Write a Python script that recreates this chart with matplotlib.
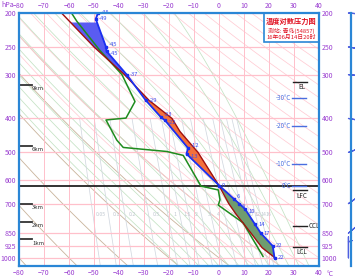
import numpy as np
import matplotlib.pyplot as plt
from matplotlib.patches import Rectangle
import matplotlib.transforms as mtransforms

plt.rcParams['font.family'] = ['Noto Sans CJK SC', 'DejaVu Sans']

# sounding (surface upward)
temp_p = [1000, 925, 850, 802, 725, 700, 679, 622, 505, 486, 405, 397, 355, 300, 257, 250, 208, 200]
temp_t = [22.2, 21.5, 16.7, 14.4, 10.4, 8.1, 6.0, 0.1, -13.0, -12.4, -21.6, -23.2, -29.3, -36.9, -45.0, -45.2, -49.3, -48.4]

dewp_p = [990, 795, 707, 683, 640, 624, 510, 497, 484, 461, 404, 399, 358, 300, 255, 211, 200]
dewp_t = [17.6, 9.7, -0.3, 0.4, -0.3, -7.2, -14.3, -20.9, -38.3, -40.9, -45.2, -37.2, -33.6, -38.8, -47.8, -56.9, -59.0]

parcel_p = [1000, 935, 850, 750, 700, 622, 500, 436, 400, 355, 300, 250, 200]
parcel_t = [22.4, 17.2, 12.8, 6.8, 3.9, 0.0, -8.4, -15.6, -18.8, -28.0, -37.8, -50.0, -63.0]

# special levels
lvl_names = ['EL', 'LFC', 'CCL', 'LCL']
lvl_p = [314, 640, 809, 929]
frz_names = ['-30°C', '-20°C', '-10°C', '0°C']
frz_p = [350, 420, 540, 622]
km_names = ['9km', '6km', '3km', '2km', '1km']
km_p = [320, 478, 702, 789, 886]

# winds
wind_p = [200, 250, 300, 400, 500, 700, 850, 1000]
wind_dir = [275, 280, 275, 280, 250, 235, 230, 180]
wind_spd = [22, 14, 20, 16, 6, 10, 8, 4]

std_p = [200, 250, 300, 400, 500, 600, 700, 850, 925, 1000]
mix_w = [0.05, 0.1, 0.2, 0.5, 1, 1.5, 2, 3, 4, 6, 8, 10, 12, 14, 16]

PURPLE = '#9b3fd1'
SPINE = '#2a86d6'
BLUE = '#1a2ff0'

fig = plt.figure(figsize=(3.55, 2.79), dpi=100)
ax = fig.add_axes([19 / 355, 13 / 279, 300 / 355, 253 / 279])
ax.set_yscale('log')
ax.set_xlim(-80, 40)
ax.set_ylim(1055, 200)

# --- background lines
pp = np.geomspace(200, 1055, 200)
for th in range(-100, 40, 20):
    ax.plot((th + 273.15) * (pp / 1000) ** 0.2857 - 273.15, pp, color='#c9b49c', lw=0.6, zorder=1)
for th in range(10, 230, 10):
    ax.plot((th + 273.15) * (pp / 1000) ** 0.2857 - 273.15, pp, color='#ffccd4', lw=0.55, zorder=1)


def moist(t0):
    ps = np.geomspace(1055, 200, 300)
    T = t0 + 273.15
    out = []
    for i, p in enumerate(ps):
        if i > 0:
            es = 6.112 * np.exp(17.67 * (T - 273.15) / (T - 29.65))
            rs = 0.622 * es / (ps[i - 1] - es)
            num = (287 * T + 2.5e6 * rs) / ps[i - 1]
            den = 1004 + 2.5e6 ** 2 * rs * 0.622 / (287 * T * T)
            T += num / den * (p - ps[i - 1])
        out.append(T - 273.15)
    return np.array(out), ps


for t0 in range(-16, 40, 4):
    mt, mp = moist(t0)
    ax.plot(mt, mp, color='#c4e2c4', lw=0.55, zorder=1)

pm = np.geomspace(400, 1055, 50)
for w in mix_w:
    e = w * pm / (622 + w)
    td = 243.5 * np.log(e / 6.112) / (17.67 - np.log(e / 6.112))
    ax.plot(td, pm, color='#d2d8e0', lw=0.55, zorder=1)
    e7 = w * 754 / (622 + w)
    l7 = np.log(e7 / 6.112)
    ax.text(243.5 * l7 / (17.67 - l7) + 3, 754, f'{w:g}', fontsize=3.8, color='#c0c8d0',
            ha='center', va='center', zorder=2)

# grid
for x in range(-80, 41, 10):
    ax.axvline(x, color='#ffc0cb', lw=0.7, zorder=1)
for p in std_p:
    ax.axhline(p, color='#ffc0cb', lw=0.9, zorder=1)

# --- fills between parcel and environment
grid = np.geomspace(200, 1000, 600)
lg = np.log(grid)
tb = np.interp(lg, np.log(temp_p[::-1]), temp_t[::-1])
tr = np.interp(lg, np.log(parcel_p[::-1]), parcel_t[::-1])
ax.fill_betweenx(grid, tr, tb, where=(grid >= 212) & (grid <= 330) & (tb >= tr), interpolate=True,
                 color='#5a5cf2', lw=0, zorder=3)
ax.fill_betweenx(grid, tr, tb, where=(grid < 623) & (tr >= tb), interpolate=True,
                 color='#f4703c', lw=0, zorder=3)
ax.fill_betweenx(grid, tr, tb, where=(grid > 621) & (tb >= tr), interpolate=True,
                 color='#6f9c6f', lw=0, zorder=3)

ax.axhline(622, color='#222222', lw=1.3, zorder=4)

ax.plot(dewp_t, dewp_p, color='#1e8c1e', lw=1.1, zorder=5)
ax.plot(parcel_t, parcel_p, color='#a01010', lw=1.0, zorder=5)
ax.plot(temp_t, temp_p, color=BLUE, lw=1.3, marker='s', ms=2.0, zorder=6)
for i, (t, p) in enumerate(zip(temp_t, temp_p)):
    va = 'center'
    if i + 1 < len(temp_p) and temp_p[i] / temp_p[i + 1] < 1.04:
        va = 'top'
    elif i > 0 and temp_p[i - 1] / temp_p[i] < 1.04:
        va = 'bottom'
    ax.text(t + 1.2, p, f'{round(t):d}', fontsize=4.2, color='#3a4cf0', va=va, zorder=7)

# special levels on the right
for name, p in zip(lvl_names, lvl_p):
    ax.plot([29.5, 35], [p, p], color='#222222', lw=1.0, zorder=6)
    if name == 'CCL':
        ax.text(35.8, p, name, fontsize=4.5, va='center', color='#222222')
    else:
        ax.text(33, p * 1.012, name, fontsize=4.5, va='top', ha='center', color='#222222')
for name, p in zip(frz_names, frz_p):
    ax.plot([29.2, 34.6], [p, p], color='#4a6ee0', lw=1.0, zorder=6)
    ax.text(28.8, p, name, fontsize=4.5, va='center', ha='right', color='#4a6ee0', zorder=6)
for name, p in zip(km_names, km_p):
    ax.plot([-80, -75], [p, p], color='#333333', lw=1.3, zorder=6, clip_on=False)
    ax.text(-74.8, p * 1.008, name, fontsize=4.3, va='top', ha='left', color='#333333', zorder=6)

# title box
ax.add_patch(Rectangle((0.816, 0.885), 0.184, 0.115, transform=ax.transAxes, facecolor='white',
                       edgecolor=SPINE, lw=1.2, zorder=8))
ax.text(0.908, 0.968, '温度对数压力图', transform=ax.transAxes, fontsize=5.2, color='#e01020',
        fontweight='bold', ha='center', va='center', zorder=9)
ax.text(0.908, 0.929, '测站: 青岛(54857)', transform=ax.transAxes, fontsize=4.2, color='#e01020',
        ha='center', va='center', zorder=9)
ax.text(0.908, 0.903, '16年06月14日20时', transform=ax.transAxes, fontsize=4.2, color='#e01020',
        ha='center', va='center', zorder=9)

# axes styling
ax.set_xticks(range(-80, 41, 10))
ax.set_yticks(std_p)
ax.set_yticklabels([str(p) for p in std_p])
ax.yaxis.set_minor_locator(plt.NullLocator())
ax.tick_params(axis='both', length=0, labelsize=5, labelcolor=PURPLE, pad=2,
               top=True, labeltop=True, right=True, labelright=True)
for s in ax.spines.values():
    s.set_color(SPINE)
    s.set_linewidth(1.6)
    s.set_zorder(10)
trans = mtransforms.blended_transform_factory(ax.transData, ax.transAxes)
ax.text(44.5, -0.033, '°C', transform=trans, fontsize=5, color=PURPLE, ha='center', va='center')
fig.text(8 / 355, 1 - 5 / 279, 'hPa', fontsize=5, color=PURPLE, ha='center', va='center')

# wind barb panel
wax = fig.add_axes([319 / 355, 13 / 279, 32 / 355, 253 / 279])
wax.set_yscale('log')
wax.set_ylim(1055, 200)
wax.set_xlim(0, 1)
wax.axis('off')
wax.plot([1, 1], [200, 1055], color=SPINE, lw=1.6, clip_on=False)
d = np.radians(wind_dir)
u = np.array(wind_spd) * np.sin(d)
v = np.array(wind_spd) * np.cos(d)
wax.barbs(np.full(len(wind_p), 0.92), wind_p, u, v, length=5.5, color='#5060e0', lw=0.9,
          sizes=dict(height=0.35, spacing=0.16), clip_on=False)

fig.savefig('out.png', dpi=100)
